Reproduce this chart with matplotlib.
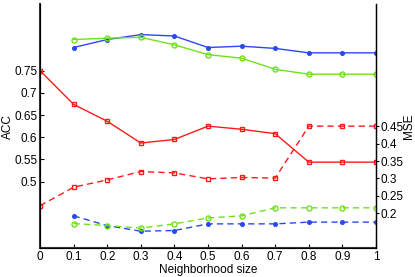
import numpy as np
import matplotlib
matplotlib.use("Agg")
import matplotlib.pyplot as plt

plt.rcParams['font.family'] = ['Liberation Sans', 'DejaVu Sans']
plt.rcParams['font.size'] = 8.5

# neighborhood sizes
x_all = [0, 0.1, 0.2, 0.3, 0.4, 0.5, 0.6, 0.7, 0.8, 0.9, 1.0]
x_part = x_all[1:]

# ACC (left axis, solid)
acc_red = [0.75, 0.674, 0.636, 0.587, 0.595, 0.625, 0.618, 0.608, 0.544, 0.544, 0.544]
acc_blue = [0.802, 0.820, 0.831, 0.828, 0.802, 0.805, 0.800, 0.790, 0.790, 0.790]
acc_green = [0.820, 0.823, 0.825, 0.808, 0.786, 0.778, 0.753, 0.742, 0.742, 0.742]

# MSE (right axis, dashed)
mse_red = [0.222, 0.275, 0.296, 0.320, 0.316, 0.299, 0.303, 0.301, 0.450, 0.450, 0.450]
mse_blue = [0.193, 0.165, 0.149, 0.151, 0.170, 0.170, 0.170, 0.175, 0.175, 0.175]
mse_green = [0.171, 0.165, 0.158, 0.170, 0.187, 0.193, 0.216, 0.216, 0.216, 0.216]

red = '#ff1a1a'
blue = '#2a48f5'
green = '#70e21c'
dash = (4.5, 3)

fig = plt.figure(figsize=(4.15, 2.77), dpi=100)
ax = fig.add_axes([0.0964, 0.1036, 0.8096, 0.882])
ax2 = ax.twinx()

ax.plot(x_all, acc_red, '-s', color=red, mfc='none', ms=3.2, lw=1)
ax.plot(x_part, acc_blue, '-o', color=blue, ms=2.6, lw=1)
ax.plot(x_part, acc_green, '-o', color=green, mfc='none', ms=3.6, lw=1)

ax2.plot(x_all, mse_red, '--s', color=red, mfc='none', ms=3.2, lw=1, dashes=dash)
ax2.plot(x_part, mse_blue, '--o', color=blue, ms=2.6, lw=1, dashes=dash)
ax2.plot(x_part, mse_green, '--o', color=green, mfc='none', ms=3.6, lw=1, dashes=dash)

ax.set_xlim(0, 1)
ax.set_ylim(0.35, 0.9)
ax2.set_ylim(0.1, 0.8)
ax.set_xticks(np.arange(0, 1.01, 0.1))
ax.set_xticklabels(['0', '0.1', '0.2', '0.3', '0.4', '0.5', '0.6', '0.7', '0.8', '0.9', '1'])
ax.set_yticks([0.5, 0.55, 0.6, 0.65, 0.7, 0.75])
ax.set_yticklabels(['0.5', '0.55', '0.6', '0.65', '0.7', '0.75'])
ax2.set_yticks([0.2, 0.25, 0.3, 0.35, 0.4, 0.45])
ax2.set_yticklabels(['0.2', '0.25', '0.3', '0.35', '0.4', '0.45'])

for a in (ax, ax2):
    a.spines['top'].set_visible(False)
ax.tick_params(direction='in', length=3, width=0.8, pad=2)
ax2.tick_params(direction='out', length=2, width=0.8, pad=1)
ax.spines['left'].set_linewidth(1.5)
ax.spines['left'].set_color('#333333')
ax.spines['bottom'].set_linewidth(1.5)
ax.spines['bottom'].set_color('#333333')
ax2.spines['right'].set_linewidth(1)

ax.set_xlabel('Neighborhood size', labelpad=1)
ax.set_ylabel('ACC')
ax2.set_ylabel('MSE')
ax.yaxis.set_label_coords(-0.077, 0.5)
ax2.yaxis.set_label_coords(1.08, 0.5)

fig.savefig('out.png', dpi=100)
